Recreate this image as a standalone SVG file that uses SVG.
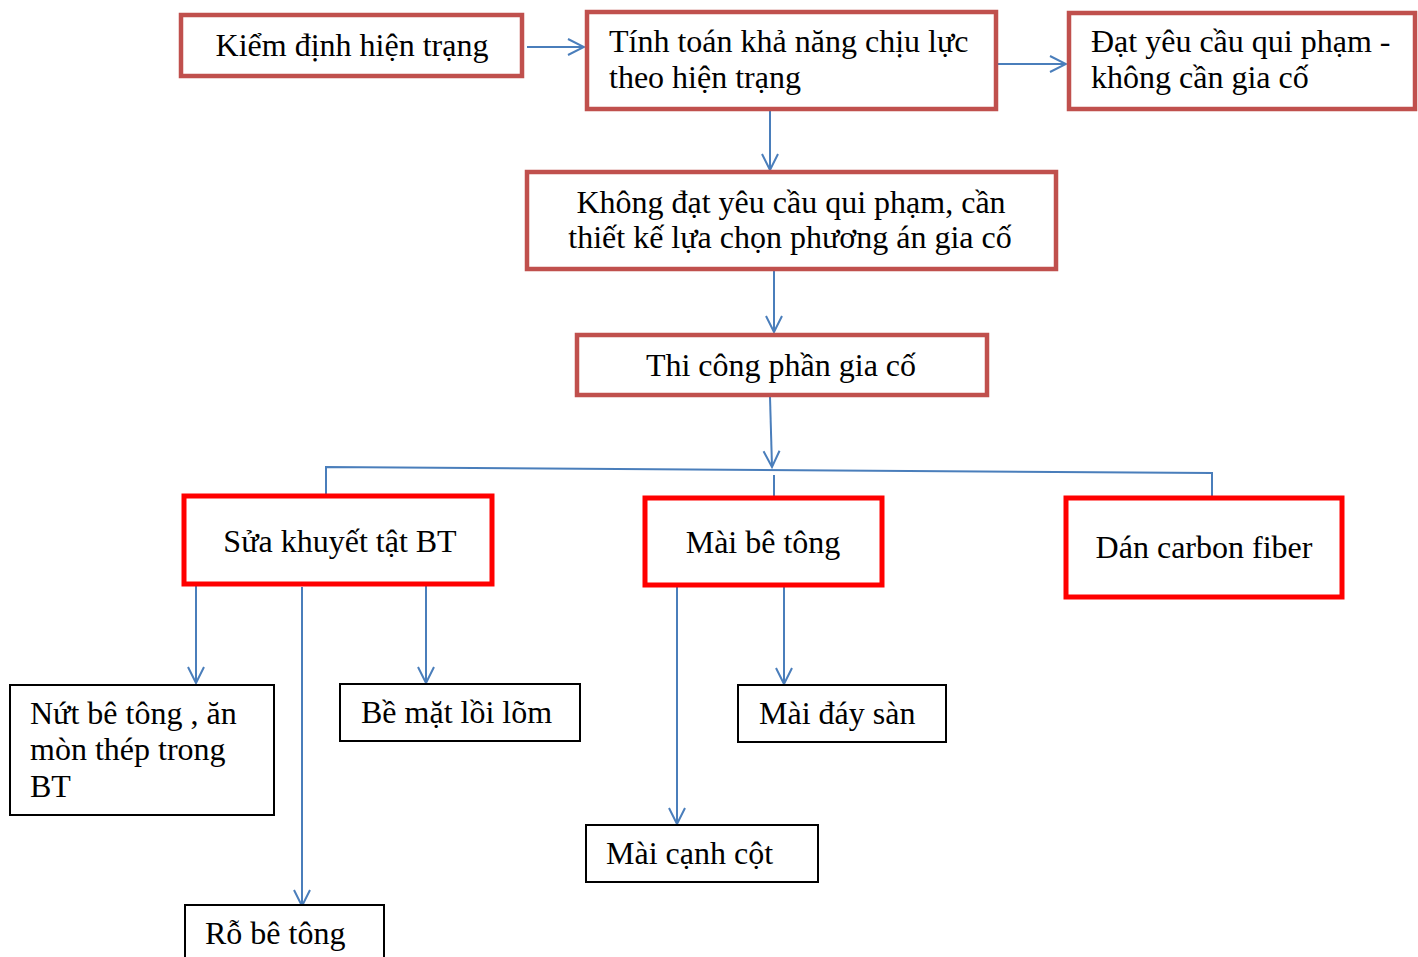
<svg xmlns="http://www.w3.org/2000/svg" width="1418" height="957" viewBox="0 0 1418 957">
<style>
text{font-family:"Liberation Serif","Times New Roman",serif;font-size:32px;fill:#000}
.c{text-anchor:middle}
.b1{fill:#fff;stroke:#C0504D;stroke-width:4.5}
.b2{fill:#fff;stroke:#FF0000;stroke-width:5}
.b3{fill:#fff;stroke:#000;stroke-width:2}
.ln{fill:none;stroke:#4A7EBB;stroke-width:2}
.ar{marker-end:url(#ah)}
</style>
<defs>
<marker id="ah" markerUnits="userSpaceOnUse" markerWidth="20" markerHeight="20" viewBox="0 0 20 20" refX="18" refY="10" orient="auto">
<path d="M2,2 L18,10 L2,18" fill="none" stroke="#4A7EBB" stroke-width="2"/>
</marker>
</defs>
<rect width="1418" height="957" fill="#fff"/>
<g id="connectors">
<line class="ln ar" x1="527" y1="47" x2="584" y2="47"/>
<line class="ln ar" x1="998" y1="64" x2="1066" y2="64"/>
<line class="ln ar" x1="770" y1="111" x2="770" y2="170"/>
<line class="ln ar" x1="774" y1="271" x2="774" y2="332"/>
<line class="ln ar" x1="770" y1="397" x2="772" y2="467"/>
<polyline class="ln" points="326,494 326,467 1212,473 1212,498"/>
<line class="ln" x1="774" y1="475" x2="774" y2="497"/>
<line class="ln ar" x1="196" y1="586" x2="196" y2="683"/>
<line class="ln ar" x1="302" y1="587" x2="302" y2="906"/>
<line class="ln ar" x1="426" y1="586" x2="426" y2="683"/>
<line class="ln ar" x1="677" y1="586" x2="677" y2="824"/>
<line class="ln ar" x1="784" y1="587" x2="784" y2="684"/>
</g>
<g id="n1"><rect class="b1" x="181" y="15" width="341" height="61"/><text class="c" x="352" y="56">Kiểm định hiện trạng</text></g>
<g id="n2"><rect class="b1" x="587" y="12" width="409" height="97"/><text x="609" y="52">Tính toán khả năng chịu lực</text><text x="609" y="88">theo hiện trạng</text></g>
<g id="n3"><rect class="b1" x="1069" y="13" width="346" height="96"/><text x="1091" y="52">Đạt yêu cầu qui phạm -</text><text x="1091" y="88">không cần gia cố</text></g>
<g id="n4"><rect class="b1" x="527" y="172" width="529" height="97"/><text class="c" x="791" y="213">Không đạt yêu cầu qui phạm, cần</text><text class="c" x="790" y="248">thiết kế lựa chọn phương án gia cố</text></g>
<g id="n5"><rect class="b1" x="577" y="335" width="410" height="60"/><text class="c" x="781" y="376">Thi công phần gia cố</text></g>
<g id="n6"><rect class="b2" x="184" y="496" width="308" height="88"/><text class="c" x="340" y="552">Sửa khuyết tật BT</text></g>
<g id="n7"><rect class="b2" x="645" y="498" width="237" height="87"/><text class="c" x="763" y="553">Mài bê tông</text></g>
<g id="n8"><rect class="b2" x="1066" y="498" width="276" height="99"/><text class="c" x="1204" y="558">Dán carbon fiber</text></g>
<g id="n9"><rect class="b3" x="10" y="685" width="264" height="130"/><text x="30" y="724">Nứt bê tông , ăn</text><text x="30" y="760">mòn thép trong</text><text x="30" y="797">BT</text></g>
<g id="n10"><rect class="b3" x="340" y="684" width="240" height="57"/><text x="361" y="723">Bề mặt lồi lõm</text></g>
<g id="n11"><rect class="b3" x="738" y="685" width="208" height="57"/><text x="759" y="724">Mài đáy sàn</text></g>
<g id="n12"><rect class="b3" x="586" y="825" width="232" height="57"/><text x="606" y="864">Mài cạnh cột</text></g>
<g id="n13"><rect class="b3" x="185" y="905" width="199" height="60"/><text x="205" y="944">Rỗ bê tông</text></g>
</svg>
